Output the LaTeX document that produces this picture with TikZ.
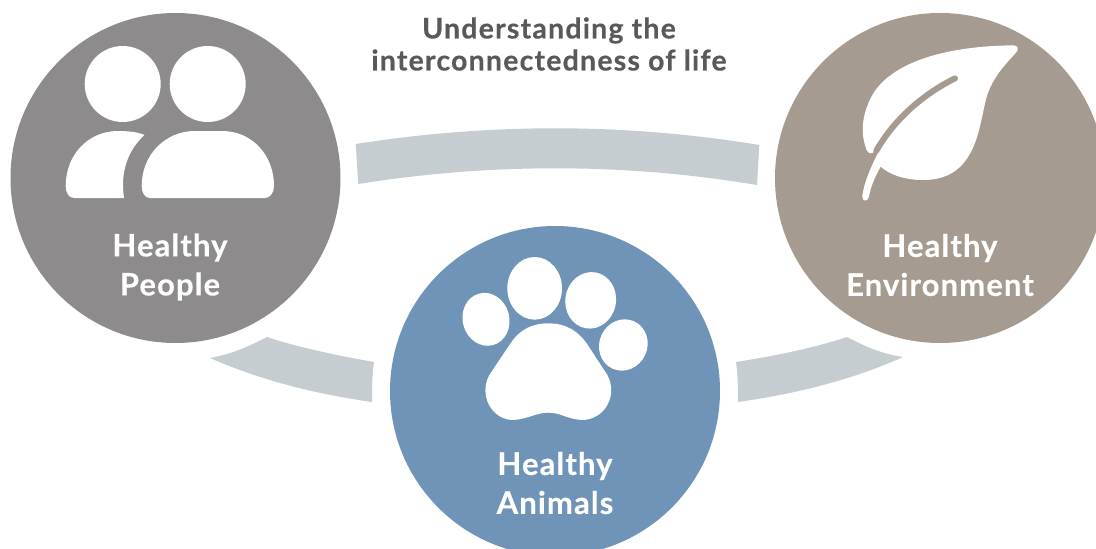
\documentclass[tikz,border=0pt]{standalone}
\usepackage{fontspec}
\setmainfont{Lato}[BoldFeatures={FakeBold=0.35}]
\newfontface\labfont{Lato Bold}[LetterSpace=3.6,FakeBold=0.35]
\newfontface\ttlfont{Lato Bold}[LetterSpace=4.2,FakeBold=0.35]
\definecolor{peoplec}{HTML}{8D8B8C}
\definecolor{envc}{HTML}{A59B90}
\definecolor{animalc}{HTML}{6F94B8}
\definecolor{bandc}{HTML}{C5CDD1}
\definecolor{titlec}{HTML}{58595B}
\tikzset{
  disc/.style={circle,minimum size=330pt,inner sep=0pt,fill=#1},
  lab/.style={text=white,align=center,font=\fontsize{31}{39}\selectfont\labfont,inner sep=0pt},
  ttl/.style={text=titlec,align=center,font=\fontsize{28.5}{32}\selectfont\ttlfont,inner sep=0pt},
  band/.style={fill=bandc,draw=none},
  icon/.style={fill=white,draw=none}
}
\begin{document}
\begin{tikzpicture}[x=1pt,y=-1pt]
\clip (0,0) rectangle (1096,549);
\fill[white] (0,0) rectangle (1096,549);
% bands
\path[band] (355.7,144) .. controls (490,122.9) and (625,122.9) .. (759.3,145)
  -- (757,185) .. controls (625,162.9) and (490,162.9) .. (358.3,184) -- cycle;
\path[band] (267,337) .. controls (300,348) and (340,356) .. (374,362)
  .. controls (372,375) and (372,390) .. (372,402)
  .. controls (315,394) and (260,380) .. (210,358)
  .. controls (232,354) and (250,346) .. (267,337) -- cycle;
\path[band] (847,337) .. controls (814,348) and (774,356) .. (736,362)
  .. controls (738,375) and (738,390) .. (738,402)
  .. controls (795,394) and (852,380) .. (903,357)
  .. controls (882,354) and (864,346) .. (847,337) -- cycle;
% discs
\node[disc=peoplec] (people) at (175.5,178) {};
\node[disc=envc] (env) at (940,178) {};
\node[disc=animalc] (animals) at (555,391) {};
% people icon
\fill[white] (122.7,84) circle (38);
\fill[white] (207.7,84) circle (38);
\path[icon] (150,198) .. controls (145,198) and (141.7,193) .. (141.7,186)
  .. controls (141.7,155) and (165,131) .. (195,131) -- (222,131)
  .. controls (252,131) and (274,155) .. (274,186)
  .. controls (274,193) and (270,198) .. (265,198) -- cycle;
\path[icon] (74,198) .. controls (69,198) and (65.7,193) .. (65.7,186)
  .. controls (65.7,155) and (88,131) .. (118,131)
  .. controls (128,131) and (138,132) .. (144.5,135)
  .. controls (128,150) and (120,172) .. (124,198) -- cycle;
% leaf icon
\begin{scope}[shift={(740,0)},scale=0.33333]
\path[icon] (380,450) .. controls (360,400) and (365,340) .. (400,280)
  .. controls (460,185) and (620,138) .. (820,136)
  .. controls (833,136) and (838,148) .. (828,158)
  .. controls (790,200) and (750,240) .. (735,310)
  .. controls (715,400) and (700,540) .. (550,540)
  .. controls (495,540) and (450,525) .. (422,500)
  .. controls (405,530) and (392,560) .. (387,590)
  .. controls (384,606) and (365,606) .. (367,588)
  .. controls (372,550) and (388,510) .. (416,455)
  -- (404,452)
  .. controls (398,464) and (385,462) .. (380,450) -- cycle;
\draw[envc,line width=6pt,line cap=round] (645,235) .. controls (545,285) and (462,360) .. (409,452);
\end{scope}
% paw icon
\begin{scope}[shift={(360,220)},scale=0.33333]
\path[icon,rotate around={15:(378,298)}] (378,298) ellipse [x radius=70,y radius=80];
\path[icon] (524,205) ellipse [x radius=82,y radius=94];
\path[icon,rotate around={-10:(692,241)}] (692,241) ellipse [x radius=76,y radius=85];
\path[icon,rotate around={-25:(790,375)}] (790,375) ellipse [x radius=72,y radius=78];
\path[icon] (565,310) .. controls (620,310) and (655,335) .. (680,370) -- (742,465)
  .. controls (775,525) and (735,600) .. (665,600)
  .. controls (620,597) and (602,578) .. (565,578)
  .. controls (528,578) and (505,597) .. (460,600)
  .. controls (395,600) and (355,525) .. (388,465) -- (455,365)
  .. controls (480,330) and (515,310) .. (565,310) -- cycle;
\end{scope}
% text
\node[ttl] (title) at (549,44) {Understanding the\\interconnectedness of life};
\node[lab] (lp) at (170,267) {Healthy\\People};
\node[lab] (le) at (940,265) {Healthy\\Environment};
\node[lab] (la) at (555,483) {Healthy\\Animals};
\end{tikzpicture}
\end{document}
